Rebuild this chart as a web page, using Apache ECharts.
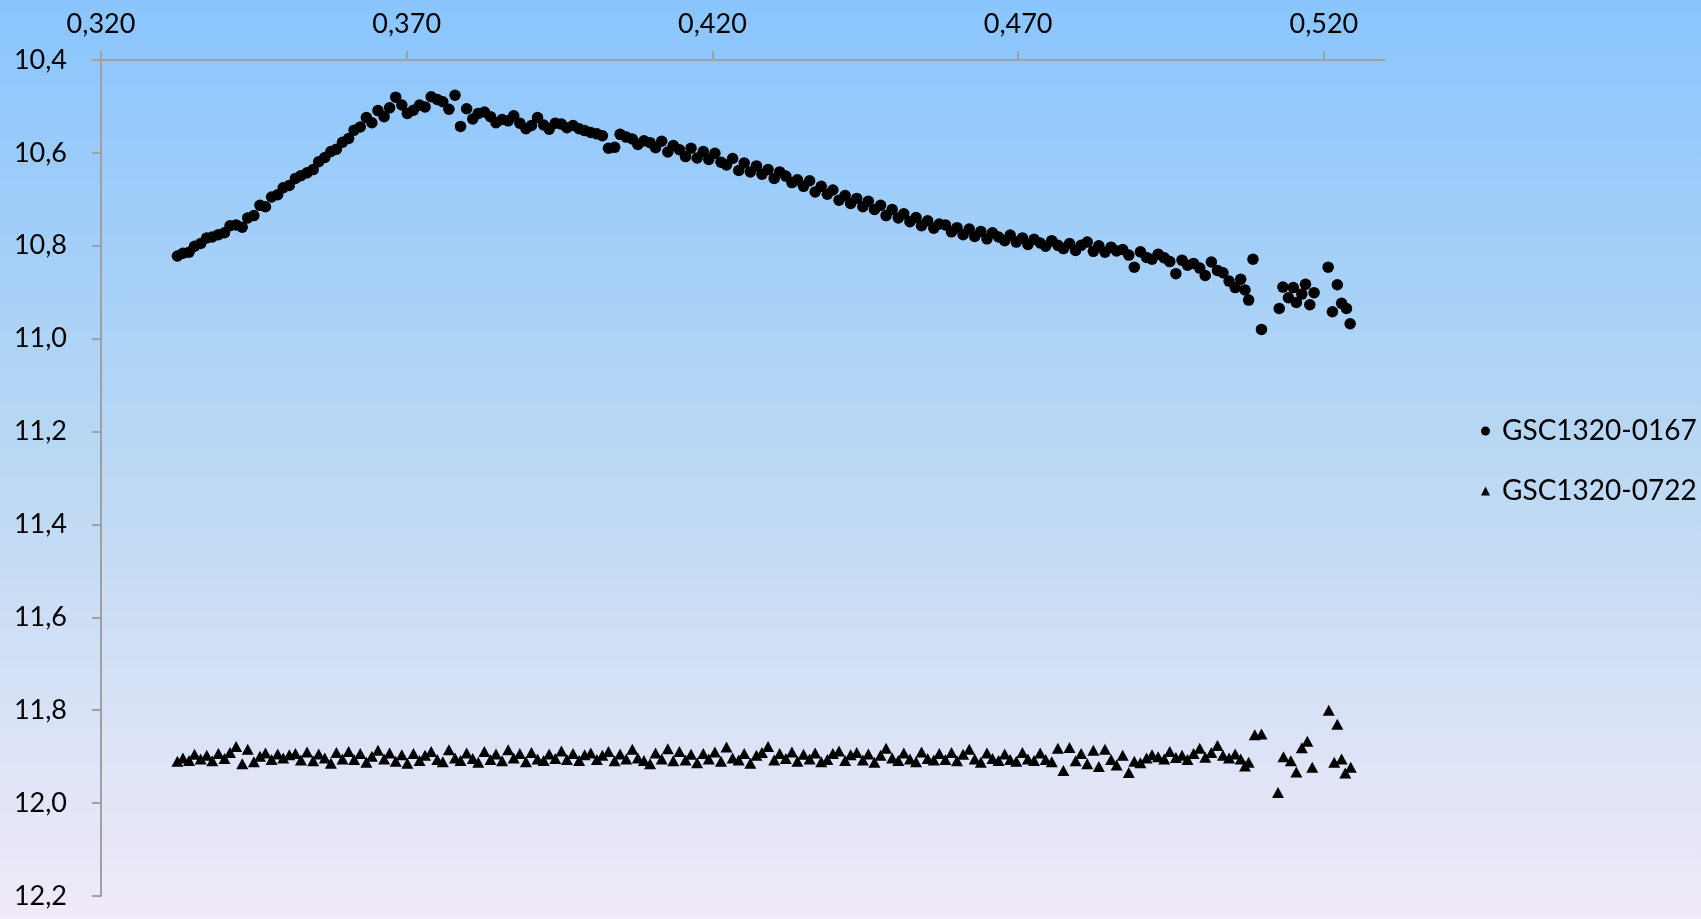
<!DOCTYPE html>
<html>
<head>
<meta charset="utf-8">
<title>GSC1320</title>
<script src="https://cdn.jsdelivr.net/npm/echarts@6/dist/echarts.min.js"></script>
<style>
html, body { margin: 0; padding: 0; }
#main { width: 1701px; height: 919px; }
</style>
</head>
<body>
<div id="main"></div>
<script>
// phase of each frame (shared by both comparison stars)
var phase = [
  0.3325, 0.3334, 0.3344, 0.3353, 0.3363, 0.3373, 0.3382, 0.3392, 0.3402, 0.3411,
  0.3421, 0.3431, 0.3440, 0.3450, 0.3460, 0.3469, 0.3479, 0.3489, 0.3498, 0.3508,
  0.3518, 0.3527, 0.3537, 0.3547, 0.3556, 0.3566, 0.3576, 0.3585, 0.3595, 0.3605,
  0.3614, 0.3624, 0.3634, 0.3643, 0.3653, 0.3663, 0.3672, 0.3682, 0.3692, 0.3701,
  0.3711, 0.3721, 0.3730, 0.3740, 0.3750, 0.3759, 0.3769, 0.3779, 0.3788, 0.3798,
  0.3808, 0.3817, 0.3827, 0.3837, 0.3846, 0.3856, 0.3866, 0.3875, 0.3885, 0.3895,
  0.3904, 0.3914, 0.3924, 0.3933, 0.3943, 0.3953, 0.3962, 0.3972, 0.3982, 0.3991,
  0.4001, 0.4011, 0.4020, 0.4030, 0.4040, 0.4049, 0.4059, 0.4069, 0.4078, 0.4088,
  0.4098, 0.4107, 0.4117, 0.4127, 0.4136, 0.4146, 0.4156, 0.4165, 0.4175, 0.4185,
  0.4194, 0.4204, 0.4214, 0.4223, 0.4233, 0.4243, 0.4252, 0.4262, 0.4272, 0.4281,
  0.4291, 0.4301, 0.4310, 0.4320, 0.4330, 0.4339, 0.4349, 0.4359, 0.4368, 0.4378,
  0.4388, 0.4397, 0.4407, 0.4417, 0.4426, 0.4436, 0.4446, 0.4455, 0.4465, 0.4475,
  0.4484, 0.4494, 0.4504, 0.4513, 0.4523, 0.4533, 0.4542, 0.4552, 0.4562, 0.4571,
  0.4581, 0.4591, 0.4600, 0.4610, 0.4620, 0.4629, 0.4639, 0.4649, 0.4658, 0.4668,
  0.4678, 0.4687, 0.4697, 0.4707, 0.4716, 0.4726, 0.4736, 0.4745, 0.4755, 0.4765,
  0.4774, 0.4784, 0.4794, 0.4803, 0.4813, 0.4823, 0.4832, 0.4842, 0.4852, 0.4861,
  0.4871, 0.4881, 0.4890, 0.4900, 0.4910, 0.4919, 0.4929, 0.4939, 0.4948, 0.4958,
  0.4968, 0.4977, 0.4987, 0.4997, 0.5006, 0.5016, 0.5026, 0.5035, 0.5045, 0.5055,
  0.5064, 0.5071, 0.5077
];

// GSC1320-0167 magnitudes
var mag0167 = [
  10.822, 10.816, 10.814, 10.801, 10.795, 10.783, 10.781, 10.776, 10.772, 10.757,
  10.755, 10.760, 10.740, 10.735, 10.713, 10.716, 10.695, 10.690, 10.675, 10.670,
  10.655, 10.649, 10.643, 10.636, 10.619, 10.610, 10.597, 10.592, 10.577, 10.569,
  10.551, 10.544, 10.524, 10.535, 10.509, 10.522, 10.503, 10.480, 10.497, 10.515,
  10.508, 10.497, 10.501, 10.479, 10.485, 10.490, 10.506, 10.476, 10.543, 10.505,
  10.527, 10.515, 10.512, 10.522, 10.535, 10.528, 10.531, 10.520, 10.536, 10.548,
  10.541, 10.524, 10.540, 10.549, 10.536, 10.538, 10.546, 10.541, 10.548, 10.552,
  10.556, 10.559, 10.563, 10.590, 10.588, 10.560, 10.566, 10.570, 10.582, 10.574,
  10.578, 10.589, 10.575, 10.598, 10.584, 10.593, 10.608, 10.590, 10.611, 10.597,
  10.614, 10.601, 10.620, 10.626, 10.612, 10.638, 10.622, 10.641, 10.628, 10.646,
  10.636, 10.655, 10.641, 10.650, 10.664, 10.658, 10.672, 10.660, 10.684, 10.672,
  10.689, 10.680, 10.702, 10.692, 10.709, 10.698, 10.716, 10.704, 10.722, 10.713,
  10.735, 10.722, 10.740, 10.731, 10.748, 10.739, 10.757, 10.746, 10.762, 10.753,
  10.755, 10.770, 10.761, 10.776, 10.764, 10.780, 10.769, 10.785, 10.772, 10.781,
  10.789, 10.777, 10.792, 10.783, 10.797, 10.786, 10.794, 10.801, 10.789, 10.799,
  10.806, 10.795, 10.810, 10.799, 10.792, 10.812, 10.800, 10.814, 10.803, 10.811,
  10.808, 10.820, 10.846, 10.813, 10.825, 10.829, 10.818, 10.826, 10.834, 10.860,
  10.831, 10.842, 10.838, 10.848, 10.864, 10.835, 10.853, 10.858, 10.876, 10.890,
  10.872, 10.895, 10.917
];

// GSC1320-0722 magnitudes
var mag0722 = [
  11.910, 11.903, 11.908, 11.895, 11.905, 11.897, 11.909, 11.893, 11.904, 11.891,
  11.878, 11.915, 11.884, 11.911, 11.899, 11.892, 11.906, 11.894, 11.903, 11.896,
  11.893, 11.907, 11.890, 11.909, 11.894, 11.903, 11.914, 11.891, 11.905, 11.889,
  11.906, 11.893, 11.912, 11.899, 11.886, 11.905, 11.892, 11.910, 11.896, 11.914,
  11.893, 11.908, 11.897, 11.889, 11.906, 11.911, 11.885, 11.903, 11.908, 11.892,
  11.904, 11.912, 11.889, 11.906, 11.894, 11.909, 11.885, 11.903, 11.893, 11.911,
  11.891, 11.905, 11.908, 11.894, 11.904, 11.888, 11.906, 11.893, 11.908, 11.896,
  11.892, 11.906, 11.897, 11.889, 11.909, 11.894, 11.905, 11.884, 11.903, 11.908,
  11.915, 11.892, 11.905, 11.883, 11.909, 11.889, 11.907, 11.895, 11.913, 11.893,
  11.905, 11.890, 11.910, 11.879, 11.903, 11.907, 11.893, 11.914, 11.897, 11.891,
  11.878, 11.907, 11.893, 11.904, 11.890, 11.910, 11.895, 11.905, 11.892, 11.911,
  11.906, 11.893, 11.888, 11.908, 11.896, 11.891, 11.907, 11.894, 11.912, 11.897,
  11.882, 11.903, 11.908, 11.892, 11.905, 11.911, 11.890, 11.904, 11.907, 11.893,
  11.906, 11.891, 11.909, 11.895, 11.884, 11.905, 11.912, 11.892, 11.904, 11.908,
  11.894, 11.906, 11.910, 11.891, 11.905, 11.908, 11.892, 11.906, 11.911, 11.882,
  11.930, 11.880, 11.909, 11.893, 11.915, 11.886, 11.921, 11.884, 11.906, 11.918,
  11.897, 11.934, 11.910, 11.913, 11.903, 11.896, 11.900, 11.905, 11.889, 11.902,
  11.897, 11.906, 11.893, 11.882, 11.901, 11.891, 11.876, 11.897, 11.903, 11.894,
  11.905, 11.920, 11.912
];

// scattered frames at the end of the run
var tailPhase0167 = [0.5084, 0.5098, 0.5127, 0.5133, 0.5142, 0.5150, 0.5155, 0.5164, 0.5170,
  0.5177, 0.5184, 0.5207, 0.5214, 0.5222, 0.5229, 0.5237, 0.5243];
var tailMag0167 = [10.829, 10.980, 10.935, 10.889, 10.912, 10.890, 10.922, 10.904, 10.883,
  10.927, 10.901, 10.846, 10.942, 10.884, 10.924, 10.935, 10.968];

var tailPhase0722 = [0.5087, 0.5098, 0.5125, 0.5134, 0.5146, 0.5155, 0.5164, 0.5173, 0.5181,
  0.5208, 0.5217, 0.5222, 0.5229, 0.5235, 0.5244];
var tailMag0722 = [11.853, 11.851, 11.977, 11.900, 11.909, 11.933, 11.881, 11.867, 11.923,
  11.800, 11.912, 11.830, 11.905, 11.935, 11.923];

var xTicks = [0.32, 0.37, 0.42, 0.47, 0.52];
var seriesNames = ['GSC1320-0167', 'GSC1320-0722'];

function pairs(xs, ys) {
    var out = [];
    for (var i = 0; i < xs.length; i++) {
        out.push([xs[i], ys[i]]);
    }
    return out;
}

var dataA = pairs(phase, mag0167).concat(pairs(tailPhase0167, tailMag0167));
var dataB = pairs(phase, mag0722).concat(pairs(tailPhase0722, tailMag0722));

var axisColor = '#a0a0a0';
var font = 'Lato, "Open Sans", sans-serif';

var myChart = echarts.init(document.getElementById('main'));

var option = {
    animation: false,
    backgroundColor: {
        type: 'linear', x: 0, y: 0, x2: 0, y2: 1,
        colorStops: [
            { offset: 0, color: '#89c5fe' },
            { offset: 0.5, color: '#bad8f3' },
            { offset: 1, color: '#f1eaf8' }
        ]
    },
    grid: { left: 101, top: 60, right: 316, bottom: 23 },
    legend: {
        orient: 'vertical',
        left: 1476,
        top: 412,
        itemGap: 32,
        itemWidth: 9,
        itemHeight: 9,
        textStyle: { color: '#000', fontSize: 28, fontFamily: font, padding: [0, 0, 0, 7] },
        data: [
            { name: seriesNames[0], icon: 'circle' },
            { name: seriesNames[1], icon: 'triangle' }
        ]
    },
    xAxis: {
        type: 'value',
        position: 'top',
        min: 0.32,
        max: 0.53,
        interval: 0.05,
        axisLine: { lineStyle: { color: axisColor, width: 2 } },
        axisTick: { show: true, length: 9, lineStyle: { color: axisColor, width: 2 }, customValues: xTicks },
        splitLine: { show: false },
        axisLabel: {
            customValues: xTicks,
            margin: 22,
            color: '#000',
            fontSize: 27,
            fontFamily: font,
            formatter: function (v) { return v.toFixed(3).replace('.', ','); }
        }
    },
    yAxis: {
        type: 'value',
        inverse: true,
        min: 10.4,
        max: 12.2,
        interval: 0.2,
        axisLine: { show: true, lineStyle: { color: axisColor, width: 2 } },
        axisTick: { show: true, length: 9, lineStyle: { color: axisColor, width: 2 } },
        splitLine: { show: false },
        axisLabel: {
            margin: 34,
            color: '#000',
            fontSize: 27,
            fontFamily: font,
            formatter: function (v) { return v.toFixed(1).replace('.', ','); }
        }
    },
    series: [
        {
            name: seriesNames[0],
            type: 'scatter',
            symbol: 'circle',
            symbolSize: 11.5,
            itemStyle: { color: '#000', opacity: 1 },
            data: dataA
        },
        {
            name: seriesNames[1],
            type: 'scatter',
            symbol: 'triangle',
            symbolSize: [12, 11],
            itemStyle: { color: '#000', opacity: 1 },
            data: dataB
        }
    ]
};

myChart.setOption(option);
</script>
</body>
</html>
